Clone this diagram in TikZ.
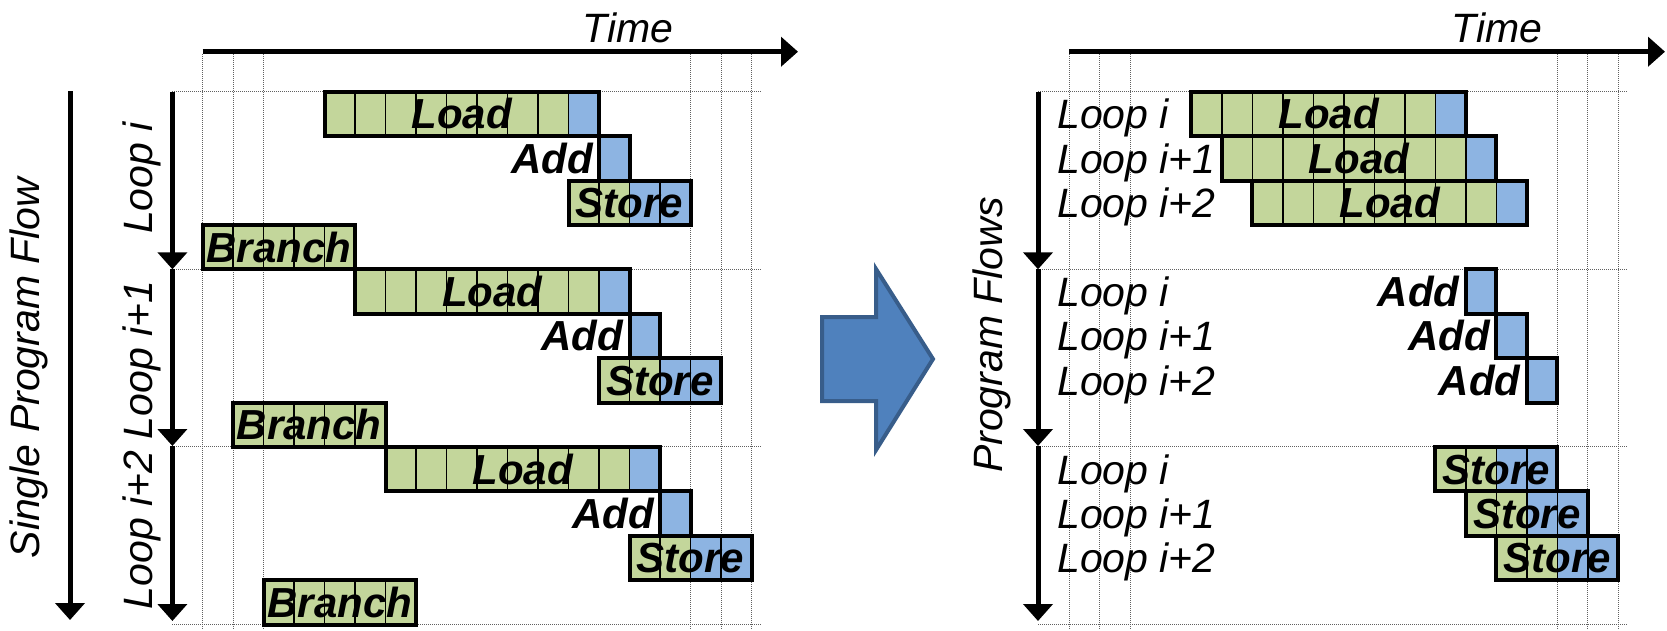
\documentclass[tikz,border=0pt]{standalone}
\usepackage{fontspec}
\setmainfont{Liberation Sans}
\usetikzlibrary{arrows.meta}

\definecolor{opgreen}{HTML}{C3D69B}
\definecolor{opblue}{HTML}{8DB4E2}
\definecolor{gridgray}{HTML}{606060}
\definecolor{bigfill}{HTML}{4F81BD}
\definecolor{bigedge}{HTML}{385D8A}

% timing grid: cell width, row height, top of the first row
\newcommand\cw{30.5}
\newcommand\rh{44.4}
\newcommand\rowtop{91.7}

\tikzset{
  flowarrow/.style={line width=5pt, -{Triangle[width=29pt,length=17pt]}},
  gridline/.style={gridgray, line width=1pt, densely dotted},
  cellline/.style={line width=1.4pt},
  opframe/.style={draw, line width=4pt, inner sep=0pt, outer sep=0pt,
                  minimum height=\rh pt},
  optext/.style={font=\fontsize{42}{50}\selectfont\bfseries\itshape,
                 inner sep=0pt, anchor=base},
  lbl/.style={font=\fontsize{41}{49}\selectfont\itshape, inner sep=0pt},
}

% \opbox{name}{panel x}{first column}{row}{green cells}{blue cells}{text}
\newcommand\opbox[7]{%
  \pgfmathsetmacro\bxa{#2+(#3)*\cw}%
  \pgfmathsetmacro\bxb{\bxa+(#5)*\cw}%
  \pgfmathsetmacro\bxc{\bxb+(#6)*\cw}%
  \pgfmathsetmacro\bya{\rowtop+(#4)*\rh}%
  \pgfmathsetmacro\byb{\bya+\rh}%
  \pgfmathsetmacro\bxm{(\bxa+\bxc)/2}%
  \pgfmathsetmacro\bym{\bya+\rh/2}%
  \pgfmathsetmacro\bwd{(#5+#6)*\cw}%
  \ifnum#5>0 \fill[opgreen] (\bxa,\bya) rectangle (\bxb,\byb);\fi
  \ifnum#6>0 \fill[opblue] (\bxb,\bya) rectangle (\bxc,\byb);\fi
  \pgfmathtruncatemacro\ncut{#5+#6-1}%
  \ifnum\ncut>0
    \foreach \j in {1,...,\ncut}{%
      \draw[cellline] ({\bxa+\j*\cw},\bya) -- ({\bxa+\j*\cw},\byb);}%
  \fi
  \node[opframe, minimum width=\bwd pt] (#1) at (\bxm,\bym) {};
  \node[optext] (#1-t) at ([yshift=-15pt]#1.center) {#7};
}

% \addbox{name}{panel x}{column}{row}: one blue cell, labelled on its left
\newcommand\addbox[4]{%
  \pgfmathsetmacro\bxa{#2+(#3)*\cw}%
  \pgfmathsetmacro\bya{\rowtop+(#4)*\rh}%
  \fill[opblue] (\bxa,\bya) rectangle ++(\cw,\rh);
  \node[opframe, minimum width=\cw pt, anchor=north west] (#1) at (\bxa,\bya) {};
  \node[optext, anchor=base east] (#1-t) at ([xshift=-6pt,yshift=-15pt]#1.west) {Add};
}

\begin{document}
\begin{tikzpicture}[x=1pt, y=-1pt]
\useasboundingbox (0,0) rectangle (1667,630);

\def\xL{202.5}
\def\xR{1069.3}

% ---------- dotted time grid ----------
\foreach \px/\ax in {\xL/172.4, \xR/1038}{
  \foreach \k in {0,1,2,16,17,18}
    \draw[gridline] ({\px+\k*\cw},54) -- ({\px+\k*\cw},630);
  \foreach \s in {0,1,2,3}
    \draw[gridline] (\ax,{\rowtop+4*\s*\rh}) -- ({\px+18.3*\cw},{\rowtop+4*\s*\rh});
}

% ---------- time axes ----------
\coordinate (lt0) at (\xL,51.7);
\coordinate (lt1) at (798,51.7);
\coordinate (rt0) at (\xR,51.7);
\coordinate (rt1) at (1665,51.7);
\draw[flowarrow] (lt0) -- (lt1);
\draw[flowarrow] (rt0) -- (rt1);
\node[lbl, anchor=base] (ltime) at (628,42) {Time};
\node[lbl, anchor=base] (rtime) at (1497,42) {Time};

% ---------- left: one program flow ----------
\coordinate (lf0) at (70,91);
\coordinate (lf1) at (70,620);
\draw[flowarrow] (lf0) -- (lf1);
\node[lbl, rotate=90] (lflow) at (29,368) {Single Program Flow};

\coordinate (la0) at (172.4,91.7);
\coordinate (la1) at (172.4,269.3);
\coordinate (la2) at (172.4,446);
\coordinate (la3) at (172.4,621);
\draw[flowarrow] (la0) -- (la1);
\draw[flowarrow] (la1) -- (la2);
\draw[flowarrow] (la2) -- (la3);
\node[lbl, rotate=90] (lloop0) at (142,178) {Loop i};
\node[lbl, rotate=90] (lloop1) at (142,360) {Loop i+1};
\node[lbl, rotate=90] (lloop2) at (142,530) {Loop i+2};

\opbox{lload0}{\xL}{4}{0}{8}{1}{Load}
\addbox{ladd0}{\xL}{13}{1}
\opbox{lstore0}{\xL}{12}{2}{2}{2}{Store}
\opbox{lbranch0}{\xL}{0}{3}{5}{0}{Branch}

\opbox{lload1}{\xL}{5}{4}{8}{1}{Load}
\addbox{ladd1}{\xL}{14}{5}
\opbox{lstore1}{\xL}{13}{6}{2}{2}{Store}
\opbox{lbranch1}{\xL}{1}{7}{5}{0}{Branch}

\opbox{lload2}{\xL}{6}{8}{8}{1}{Load}
\addbox{ladd2}{\xL}{15}{9}
\opbox{lstore2}{\xL}{14}{10}{2}{2}{Store}
\opbox{lbranch2}{\xL}{2}{11}{5}{0}{Branch}

% ---------- transformation arrow ----------
\filldraw[fill=bigfill, draw=bigedge, line width=4pt, line join=miter]
  (822,317) -- (876,317) -- (876,269) -- (933,359) -- (876,450)
  -- (876,401) -- (822,401) -- cycle;

% ---------- right: parallel program flows ----------
\node[lbl, rotate=90] (rflow) at (992,335) {Program Flows};
\coordinate (ra0) at (1038,91.7);
\coordinate (ra1) at (1038,269.3);
\coordinate (ra2) at (1038,446);
\coordinate (ra3) at (1038,621);
\draw[flowarrow] (ra0) -- (ra1);
\draw[flowarrow] (ra1) -- (ra2);
\draw[flowarrow] (ra2) -- (ra3);

\foreach \g in {0,1,2}{
  \foreach \r/\t in {0/{Loop i}, 1/{Loop i+1}, 2/{Loop i+2}}{
    \node[lbl, anchor=base west] (rloop\g\r) at (1057,{\rowtop+(4*\g+\r+0.5)*\rh+15}) {\t};
  }
}

\opbox{rload0}{\xR}{4}{0}{8}{1}{Load}
\opbox{rload1}{\xR}{5}{1}{8}{1}{Load}
\opbox{rload2}{\xR}{6}{2}{8}{1}{Load}

\addbox{radd0}{\xR}{13}{4}
\addbox{radd1}{\xR}{14}{5}
\addbox{radd2}{\xR}{15}{6}

\opbox{rstore0}{\xR}{12}{8}{2}{2}{Store}
\opbox{rstore1}{\xR}{13}{9}{2}{2}{Store}
\opbox{rstore2}{\xR}{14}{10}{2}{2}{Store}
\end{tikzpicture}
\end{document}
